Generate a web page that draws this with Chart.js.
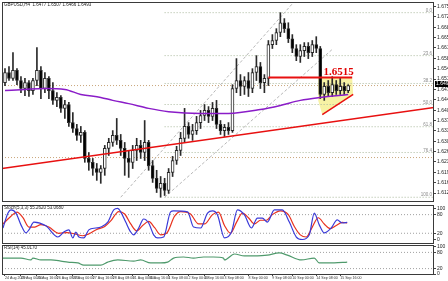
<!DOCTYPE html>
<html lang="en">
<head>
<meta charset="UTF-8">
<title>GBPUSD,H4</title>
<script src="https://cdn.jsdelivr.net/npm/chart.js@4.4.1/dist/chart.umd.min.js"></script>
<style>
  body { margin: 0; background: #fff; }
  .wrap { position: relative; width: 448px; height: 281px; overflow: hidden; background: #fff; }
  .wrap canvas { position: absolute; left: 0; }
</style>
</head>
<body>
<div class="wrap">
  <canvas id="mainChart" width="448" height="203" style="top:0"></canvas>
  <canvas id="stochChart" width="448" height="41" style="top:203px"></canvas>
  <canvas id="rsiChart" width="448" height="37" style="top:244px"></canvas>
</div>
<script>
// ---- candles (H4) ----
const candleOpen = [1.6498,1.6532,1.6512,1.6539,1.6505,1.6478,1.6498,1.6471,1.6505,1.6539,
  1.6478,1.6512,1.6471,1.6438,1.6448,1.6411,1.6424,1.6363,1.6343,1.6320,
  1.6330,1.6242,1.6229,1.6208,1.6195,1.6208,1.6276,1.6296,1.6320,1.6303,
  1.6276,1.6242,1.6229,1.6269,1.6286,1.6262,1.6296,1.6218,1.6175,1.6141,
  1.6158,1.6134,1.6195,1.6235,1.6269,1.6310,1.6350,1.6323,1.6336,1.6363,
  1.6387,1.6404,1.6384,1.6411,1.6357,1.6336,1.6347,1.6336,1.6478,1.6505,
  1.6485,1.6505,1.6478,1.6532,1.6552,1.6498,1.6512,1.6626,1.6640,1.6667,
  1.6700,1.6680,1.6646,1.6613,1.6586,1.6606,1.6620,1.6599,1.6626,1.6613,
  1.6458,1.6485,1.6464,1.6491,1.6471,1.6485,1.6471];
const candleClose = [1.6532,1.6512,1.6539,1.6505,1.6478,1.6498,1.6471,1.6505,1.6539,1.6478,
  1.6512,1.6471,1.6438,1.6448,1.6411,1.6424,1.6363,1.6343,1.6320,1.6330,
  1.6242,1.6229,1.6208,1.6195,1.6208,1.6276,1.6296,1.6320,1.6303,1.6276,
  1.6242,1.6229,1.6269,1.6286,1.6262,1.6296,1.6218,1.6175,1.6141,1.6158,
  1.6134,1.6195,1.6235,1.6269,1.6310,1.6350,1.6323,1.6336,1.6363,1.6387,
  1.6404,1.6384,1.6411,1.6357,1.6336,1.6347,1.6336,1.6478,1.6505,1.6485,
  1.6505,1.6478,1.6532,1.6552,1.6498,1.6512,1.6626,1.6640,1.6667,1.6700,
  1.6680,1.6646,1.6613,1.6586,1.6606,1.6620,1.6599,1.6626,1.6613,1.6458,
  1.6485,1.6464,1.6491,1.6471,1.6485,1.6471,1.6488];
const candleHigh = [1.6545,1.6552,1.6599,1.6545,1.6518,1.6512,1.6505,1.6512,1.6616,1.6552,
  1.6532,1.6518,1.6498,1.6464,1.6454,1.6438,1.6431,1.6397,1.6357,1.6350,
  1.6336,1.6262,1.6242,1.6225,1.6218,1.6286,1.6310,1.6336,1.6377,1.6323,
  1.6296,1.6269,1.6286,1.6310,1.6303,1.6370,1.6303,1.6235,1.6202,1.6181,
  1.6175,1.6208,1.6249,1.6283,1.6330,1.6411,1.6363,1.6357,1.6384,1.6404,
  1.6424,1.6417,1.6431,1.6438,1.6370,1.6357,1.6363,1.6491,1.6579,1.6525,
  1.6518,1.6532,1.6545,1.6589,1.6566,1.6525,1.6640,1.6660,1.6680,1.6734,
  1.6714,1.6700,1.6660,1.6626,1.6626,1.6633,1.6633,1.6640,1.6653,1.6620,
  1.6498,1.6505,1.6518,1.6505,1.6512,1.6498,1.6491];
const candleLow = [1.6488,1.6505,1.6505,1.6491,1.6464,1.6454,1.6451,1.6458,1.6488,1.6444,
  1.6464,1.6444,1.6424,1.6417,1.6397,1.6377,1.6350,1.6330,1.6303,1.6296,
  1.6229,1.6202,1.6185,1.6168,1.6158,1.6185,1.6252,1.6283,1.6289,1.6252,
  1.6185,1.6178,1.6208,1.6235,1.6242,1.6235,1.6202,1.6161,1.6127,1.6111,
  1.6117,1.6124,1.6181,1.6222,1.6252,1.6296,1.6310,1.6303,1.6323,1.6343,
  1.6370,1.6363,1.6370,1.6343,1.6323,1.6316,1.6323,1.6330,1.6464,1.6454,
  1.6458,1.6451,1.6464,1.6505,1.6478,1.6464,1.6488,1.6613,1.6626,1.6653,
  1.6667,1.6633,1.6599,1.6572,1.6566,1.6586,1.6579,1.6586,1.6599,1.6444,
  1.6438,1.6451,1.6451,1.6458,1.6458,1.6458,1.6464];

// moving average (purple), sampled
const maIdx = [0,5,10,15,19,24,27,31,36,41,49,56,64,69,74,79,86];
const maVal = [1.6471,1.6475,1.6478,1.6475,1.6458,1.6448,1.6438,1.6427,1.6411,1.6400,1.6394,1.6394,1.6407,1.6421,1.6438,1.6448,1.6458];

// drawn objects
const priceTicks = [1.6755,1.6720,1.6685,1.6650,1.6615,1.6580,1.6545,1.6510,1.6475,1.6440,1.6405,1.6370,1.6335,1.6300,1.6265,1.6230,1.6195,1.6160,1.6125];
const fibPrices = [1.6734,1.6589,1.6495,1.6424,1.6349,1.6262,1.6111];
const fibNames = ['0.0','23.6','38.2','50.0','61.8','76.4','100.0'];
const fibStart = 40;
const levelPrices = [1.6488,1.6245];
const trendIdx = [-0.75,107.5], trendPrice = [1.6208,1.6414];
const resIdx = [66,87], resPrice = [1.6515,1.6515];
const pennantIdx = [78.5,87,87.25,79.5,78.5];
const pennantPrice = [1.6515,1.6515,1.6458,1.6390,1.6437];
const chanAIdx = [29,72], chanAPrice = [1.6111,1.6764];
const chanBIdx = [40,82], chanBPrice = [1.6111,1.6610];
const lastPrice = 1.6493;

// stochastic
const stochKIdx = [-0.5,0.75,1.5,2.75,4,5.25,6,7.25,10.25,13.25,14.75,16,17,17.75,18.5,19.75,21,22.75,24,25.75,27.25,28.25,29,30.25,31.5,32.25,33.5,34.75,36,37.25,38.25,39.75,41.5,42.25,45.75,47.25,49,50.75,52,53.25,55,56.75,58.25,60,61.75,63.25,64.5,65.75,67.5,69.5,71.25,73,74.5,76.25,77.5,78.75,80,81.75,83.25,84.5,85.75];
const stochK = [37,85,95,85,47,21,31,56,44,8,24,31,5,24,8,5,31,37,40,56,95,100,89,56,24,15,37,66,53,15,5,8,89,92,89,40,37,85,92,79,5,24,95,79,37,69,69,56,95,95,56,8,0,15,85,47,21,37,63,53,55];
const stochDIdx = [-0.5,1.5,3,4.5,6,7.5,9,11,13.5,15.5,17.5,19.5,21,23,25,26.5,28.5,30,31.5,33,34.5,36,37.5,39,40.5,42.5,44,46.5,48.5,50,52,53.5,55,56.5,58,59.5,61,62.5,64,65.5,67,69,71,72.5,74,75.5,77,78.5,80,81.5,83,84.5,85.75];
const stochD = [50,75,88,70,40,40,48,40,20,22,18,12,18,32,42,60,90,82,50,28,45,58,38,15,20,75,90,82,50,50,80,88,45,20,55,85,70,50,62,62,80,92,80,42,15,8,40,70,50,35,45,55,53];
const oscTicks = [100,80,20,0];
const oscLevels = [80,20];

// RSI
const rsiIdx = [-0.75,1.5,4,6.5,7,9,11.5,14,15.75,18.25,19.75,24,25.75,28.25,32.25,34,36.5,39,40.75,42.25,44.75,47.25,49.75,52.25,54.75,55,57.5,60,63.25,65.75,68.75,70.75,74.25,77.5,78.75,82.5,85.75];
const rsiVal = [59,59,59,52,59,52,52,48,44,41,33,33,44,52,48,52,41,41,44,59,63,59,63,63,59,52,74,67,67,70,78,70,52,59,41,41,44];

// time axis
const dateTickIdx = [0,4,8,13,17,22,27,32,36,41,46,50,55,61,67,72,78,84];
const dateTickText = ['24 Aug 2009','25 Aug 00:00','25 Aug 16:00','26 Aug 08:00','27 Aug 00:00','27 Aug 16:00','28 Aug 08:00','31 Aug 00:00','31 Aug 16:00','1 Sep 08:00','2 Sep 00:00','2 Sep 16:00','3 Sep 08:00','8 Sep 00:00','9 Sep 08:00','10 Sep 00:00','14 Sep 08:00','15 Sep 16:00'];

const X_MIN = -0.75, X_MAX = 107.5;
const FONT = 'Arial, "Liberation Sans", sans-serif';

function seg(xs, ys, color, width, dash, order) {
  return {
    type: 'line',
    data: xs.map((x, i) => ({ x: x, y: ys[i] })),
    borderColor: color, borderWidth: width, borderDash: dash || [],
    pointRadius: 0, fill: false, tension: 0, order: order
  };
}

function rightAxis(min, max, ticks, fmt) {
  return {
    position: 'right', min: min, max: max,
    afterFit: s => { s.width = 14; s.paddingTop = 0; s.paddingBottom = 0; },
    afterBuildTicks: s => { s.ticks = ticks.map(v => ({ value: v })); },
    ticks: { font: { size: 5, family: FONT }, color: '#222', padding: 1, callback: fmt },
    grid: { drawOnChartArea: false, tickLength: 2, color: '#444' },
    border: { display: false }
  };
}

function xAxis(show) {
  return {
    type: 'linear', min: X_MIN, max: X_MAX, offset: false, display: show,
    afterFit: s => { if (show) s.height = 6; },
    afterBuildTicks: s => { s.ticks = dateTickIdx.map(v => ({ value: v })); },
    ticks: {
      autoSkip: false, maxRotation: 0, align: 'start', padding: 0,
      font: { size: 3.6, family: FONT }, color: '#333',
      callback: (v, i) => dateTickText[i]
    },
    grid: { drawOnChartArea: false, tickLength: 1, color: '#444' },
    border: { display: false }
  };
}

const framePlugin = {
  id: 'frame',
  afterDraw(chart) {
    const a = chart.chartArea, ctx = chart.ctx;
    ctx.save();
    ctx.strokeStyle = '#3a3a3a';
    ctx.lineWidth = 1;
    ctx.strokeRect(a.left + 0.5, a.top + 0.5, a.right - a.left - 1, a.bottom - a.top - 1);
    ctx.restore();
  }
};

function captionPlugin(text) {
  return {
    id: 'caption',
    afterDraw(chart) {
      const ctx = chart.ctx, a = chart.chartArea;
      ctx.save();
      ctx.font = '4.5px ' + FONT;
      ctx.fillStyle = '#222';
      ctx.textBaseline = 'top';
      ctx.fillText(text, a.left + 2, a.top + 1);
      ctx.restore();
    }
  };
}

const mainDecor = {
  id: 'mainDecor',
  beforeDatasetsDraw(chart) {
    const { ctx, scales: { x, y } } = chart;
    ctx.save();
    ctx.beginPath();
    pennantIdx.forEach((v, i) => {
      const px = x.getPixelForValue(v), py = y.getPixelForValue(pennantPrice[i]);
      if (i) ctx.lineTo(px, py); else ctx.moveTo(px, py);
    });
    ctx.closePath();
    ctx.fillStyle = '#f7f2a4';
    ctx.fill();
    ctx.restore();
  },
  afterDraw(chart) {
    const { ctx, scales: { x, y }, chartArea: a } = chart;
    ctx.save();
    // fibo labels
    ctx.font = '4.5px ' + FONT;
    ctx.fillStyle = '#8a8a8a';
    ctx.textAlign = 'right';
    ctx.textBaseline = 'bottom';
    fibPrices.forEach((p, i) => ctx.fillText(fibNames[i], a.right - 2, y.getPixelForValue(p)));
    // level text
    ctx.font = 'bold 11px "Liberation Serif", "Times New Roman", serif';
    ctx.fillStyle = '#e00000';
    ctx.textAlign = 'left';
    ctx.textBaseline = 'alphabetic';
    ctx.fillText(resPrice[0].toFixed(4), x.getPixelForValue(79.8), y.getPixelForValue(resPrice[0]) - 3);
    // current price marker
    const py = Math.round(y.getPixelForValue(lastPrice));
    ctx.fillStyle = '#000';
    ctx.fillRect(a.right + 1, py - 3, 14, 6);
    ctx.font = '5px ' + FONT;
    ctx.fillStyle = '#fff';
    ctx.textBaseline = 'middle';
    ctx.fillText(lastPrice.toFixed(4), a.right + 2, py);
    ctx.restore();
  }
};

const bodyData = candleOpen.map((o, i) => ({ x: i, y: [o, candleClose[i]] }));
const wickData = candleOpen.map((o, i) => ({ x: i, y: [candleLow[i], candleHigh[i]] }));
const bodyFill = candleOpen.map((o, i) => candleClose[i] >= o ? '#ffffff' : '#000000');

const mainSets = [
  seg(resIdx, resPrice, '#e81010', 2, [], 0),
  seg(trendIdx, trendPrice, '#e81010', 1.5, [], 0),
  seg([pennantIdx[3], pennantIdx[2]], [pennantPrice[3], pennantPrice[2]], '#e81010', 1.5, [], 0),
  Object.assign(seg(maIdx, maVal, '#8a1cc8', 1.5, [], 1), { tension: 0.4, cubicInterpolationMode: 'monotone' }),
  { type: 'bar', data: bodyData, backgroundColor: bodyFill, borderColor: '#2a2a2a', borderWidth: 1,
    borderSkipped: false, barThickness: 3, grouped: false, order: 2 },
  { type: 'bar', data: wickData, backgroundColor: '#2a2a2a', barThickness: 1, grouped: false, order: 3 },
  seg(chanAIdx, chanAPrice, '#b8b8b8', 1, [3, 2], 4),
  seg(chanBIdx, chanBPrice, '#b8b8b8', 1, [3, 2], 4)
];
fibPrices.forEach(p => mainSets.push(seg([fibStart, X_MAX], [p, p], '#a9b89c', 1, [1, 2], 5)));
levelPrices.forEach(p => mainSets.push(seg([X_MIN, X_MAX], [p, p], '#c9a57a', 1, [1, 2], 5)));

new Chart(document.getElementById('mainChart'), {
  type: 'bar',
  data: { datasets: mainSets },
  options: {
    responsive: false, animation: false, events: [],
    layout: { padding: { left: 2, right: 0, top: 2, bottom: 1 } },
    scales: {
      x: xAxis(false),
      y: rightAxis(1.6095, 1.6770, priceTicks, v => v.toFixed(4))
    },
    plugins: { legend: { display: false }, tooltip: { enabled: false } }
  },
  plugins: [mainDecor, framePlugin, captionPlugin('GBPUSD,H4  1.6477 1.6507 1.6466 1.6493')]
});

function oscSets(extra) {
  const sets = oscLevels.map(v => seg([X_MIN, X_MAX], [v, v], '#a0a0a0', 1, [1, 2], 5));
  return extra.concat(sets);
}

new Chart(document.getElementById('stochChart'), {
  type: 'line',
  data: { datasets: oscSets([
    Object.assign(seg(stochKIdx, stochK, '#3a3ad8', 1.2, [], 0), { cubicInterpolationMode: 'monotone' }),
    Object.assign(seg(stochDIdx, stochD, '#e8321e', 1.2, [], 1), { cubicInterpolationMode: 'monotone' })
  ]) },
  options: {
    responsive: false, animation: false, events: [],
    layout: { padding: { left: 2, right: 0, top: 2, bottom: 0 } },
    scales: { x: xAxis(false), y: rightAxis(-14.5, 111, oscTicks, v => String(v)) },
    plugins: { legend: { display: false }, tooltip: { enabled: false } }
  },
  plugins: [framePlugin, captionPlugin('Stoch(5,3,3) 55.2620 53.0680')]
});

new Chart(document.getElementById('rsiChart'), {
  type: 'line',
  data: { datasets: oscSets([
    Object.assign(seg(rsiIdx, rsiVal, '#4f9a6c', 1.2, [], 0), { cubicInterpolationMode: 'monotone' })
  ]) },
  options: {
    responsive: false, animation: false, events: [],
    layout: { padding: { left: 2, right: 0, top: 1, bottom: 0 } },
    scales: { x: xAxis(true), y: rightAxis(-3.7, 107.4, oscTicks, v => String(v)) },
    plugins: { legend: { display: false }, tooltip: { enabled: false } }
  },
  plugins: [framePlugin, captionPlugin('RSI(14) 45.0170')]
});
</script>
</body>
</html>
